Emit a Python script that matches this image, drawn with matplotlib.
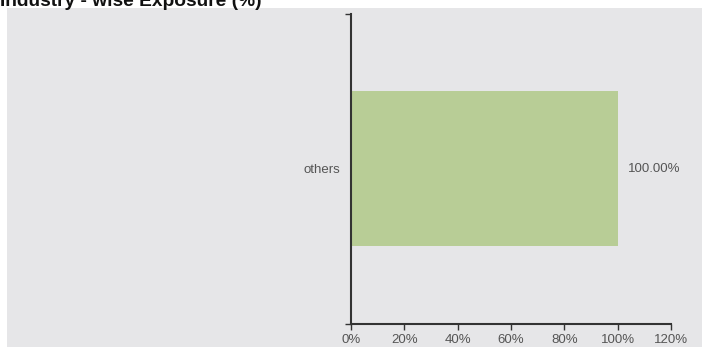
import matplotlib
matplotlib.use("Agg")
import matplotlib.pyplot as plt
from matplotlib.patches import Rectangle
from matplotlib.ticker import FuncFormatter

plt.rcParams['font.family'] = ['Liberation Sans', 'DejaVu Sans']

title = "Industry - wise Exposure (%)"
industries = ["others"]
exposure = [100.00]
x_ticks = [0, 20, 40, 60, 80, 100, 120]

W, H = 702, 347
fig = plt.figure(figsize=(W / 100, H / 100), dpi=100)

# grey panel behind the chart
fig.patches.append(Rectangle((7 / W, 0), 1 - 7 / W, 1 - 8 / H, transform=fig.transFigure,
                             facecolor='#e6e6e8', edgecolor='none', zorder=-10))

fig.text(0.0, 1 - 6 / H, title, fontsize=13.8, fontweight='bold', color='#111111',
         ha='left', va='baseline')

ax = fig.add_axes([351 / W, 1 - 324 / H, 320 / W, 310 / H])
ax.patch.set_alpha(0)
ax.set_zorder(5)

ax.barh(industries, exposure, height=0.5, color='#b8cd96', zorder=2)
for i, v in enumerate(exposure):
    ax.text(v + 3.8, i, "%.2f%%" % v, va='center', ha='left', fontsize=9.5, color='#555555')

ax.set_xlim(0, 120)
ax.set_ylim(-0.5, 0.5)
ax.set_xticks(x_ticks)
ax.xaxis.set_major_formatter(FuncFormatter(lambda v, p: "%d%%" % v))
ax.set_yticks([0])
ax.set_yticklabels(industries)
ax.set_yticks([-0.5, 0.5], minor=True)

for s in ['top', 'right']:
    ax.spines[s].set_visible(False)
for s in ['left', 'bottom']:
    ax.spines[s].set_color('#333333')
    ax.spines[s].set_linewidth(1.5)

ax.tick_params(axis='x', length=4, width=1, color='#333333', labelsize=9.5,
               labelcolor='#555555', pad=3)
ax.tick_params(axis='y', which='major', length=0, labelsize=9.5, labelcolor='#555555', pad=12)
ax.tick_params(axis='y', which='major', pad=8)
ax.tick_params(axis='y', which='minor', length=4, width=1, color='#333333')

fig.savefig("out.png", dpi=100)
